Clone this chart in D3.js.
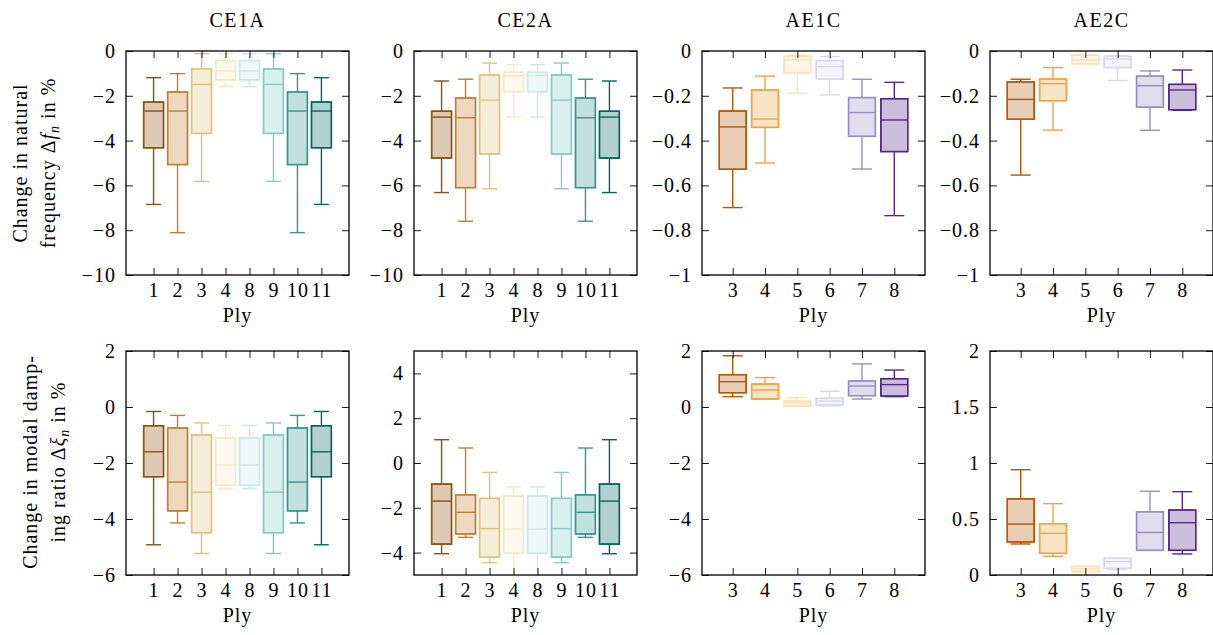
<!DOCTYPE html>
<html>
<head>
<meta charset="utf-8">
<script src="https://cdn.jsdelivr.net/npm/d3@7"></script>
<style>
  body { margin: 0; background: #fff; }
  svg, svg text { font-family: "Liberation Serif", "Times New Roman", Tinos, "DejaVu Serif", serif; }
</style>
</head>
<body>
<div id="container"></div>
<script>
// categories (plies) and colours
let ceCats = ["1", "2", "3", "4", "8", "9", "10", "11"];
let aeCats = ["3", "4", "5", "6", "7", "8"];
let ceColors = ["#8c510a", "#bf812d", "#dfc27d", "#f6e8c3", "#c7eae5", "#80cdc1", "#35978f", "#01665e"];
let aeColors = ["#b35806", "#f1a340", "#fee0b6", "#d8daeb", "#998ec3", "#542788"];

// box stats per ply: [lower whisker, q1, median, q3, upper whisker]
let ce1aFreq = [
  [-6.85, -4.32, -2.68, -2.28, -1.19],
  [-8.11, -5.07, -2.68, -1.83, -1.01],
  [-5.82, -3.68, -1.49, -0.80, -0.12],
  [-1.59, -1.29, -0.89, -0.43, -0.12],
  [-1.59, -1.29, -0.89, -0.43, -0.12],
  [-5.82, -3.68, -1.49, -0.80, -0.12],
  [-8.11, -5.07, -2.68, -1.83, -1.01],
  [-6.85, -4.32, -2.68, -2.28, -1.19]
];
let ce2aFreq = [
  [-6.32, -4.78, -2.95, -2.69, -1.34],
  [-7.60, -6.10, -2.98, -2.10, -1.26],
  [-6.15, -4.60, -2.19, -1.07, -0.54],
  [-2.95, -1.82, -1.10, -0.95, -0.61],
  [-2.95, -1.82, -1.10, -0.95, -0.61],
  [-6.15, -4.60, -2.19, -1.07, -0.54],
  [-7.60, -6.10, -2.98, -2.10, -1.26],
  [-6.32, -4.78, -2.95, -2.69, -1.34]
];
let ae1cFreq = [
  [-0.699, -0.528, -0.339, -0.268, -0.165],
  [-0.500, -0.341, -0.304, -0.174, -0.112],
  [-0.188, -0.098, -0.039, -0.024, -0.019],
  [-0.196, -0.126, -0.070, -0.043, -0.025],
  [-0.527, -0.381, -0.275, -0.208, -0.126],
  [-0.735, -0.449, -0.308, -0.213, -0.140]
];
let ae2cFreq = [
  [-0.554, -0.305, -0.216, -0.138, -0.126],
  [-0.353, -0.222, -0.146, -0.125, -0.074],
  [-0.057, -0.057, -0.040, -0.019, -0.016],
  [-0.132, -0.074, -0.036, -0.024, -0.021],
  [-0.354, -0.251, -0.155, -0.112, -0.089],
  [-0.265, -0.262, -0.174, -0.149, -0.085]
];
let ce1aDamp = [
  [-4.92, -2.49, -1.60, -0.67, -0.16],
  [-4.14, -3.71, -2.68, -0.75, -0.30],
  [-5.23, -4.49, -3.04, -1.00, -0.57],
  [-2.92, -2.80, -2.07, -1.10, -0.66],
  [-2.92, -2.80, -2.07, -1.10, -0.66],
  [-5.23, -4.49, -3.04, -1.00, -0.57],
  [-4.14, -3.71, -2.68, -0.75, -0.30],
  [-4.92, -2.49, -1.60, -0.67, -0.16]
];
let ce2aDamp = [
  [-4.05, -3.62, -1.70, -0.94, 1.04],
  [-3.32, -3.17, -2.20, -1.42, 0.67],
  [-4.45, -4.20, -2.93, -1.58, -0.42],
  [-5.30, -4.03, -2.95, -1.47, -1.07],
  [-5.30, -4.03, -2.95, -1.47, -1.07],
  [-4.45, -4.20, -2.93, -1.58, -0.42],
  [-3.32, -3.17, -2.20, -1.42, 0.67],
  [-4.05, -3.62, -1.70, -0.94, 1.04]
];
let ae1cDamp = [
  [0.37, 0.51, 0.905, 1.155, 1.83],
  [0.286, 0.286, 0.607, 0.82, 1.05],
  [0.035, 0.035, 0.14, 0.21, 0.33],
  [0.04, 0.07, 0.21, 0.31, 0.56],
  [0.286, 0.405, 0.75, 0.93, 1.54],
  [0.37, 0.39, 0.80, 1.01, 1.32]
];
let ae2cDamp = [
  [0.277, 0.295, 0.455, 0.68, 0.94],
  [0.167, 0.193, 0.372, 0.458, 0.637],
  [0.03, 0.03, 0.054, 0.077, 0.077],
  [0.05, 0.06, 0.12, 0.149, 0.149],
  [0.22, 0.22, 0.38, 0.565, 0.747],
  [0.188, 0.22, 0.467, 0.58, 0.744]
];

// y tick values
let ceFreqTicks = [0, -2, -4, -6, -8, -10];
let aeFreqTicks = [0, -0.2, -0.4, -0.6, -0.8, -1];
let ce1aDampTicks = [2, 0, -2, -4, -6];
let ce2aDampTicks = [4, 2, 0, -2, -4];
let ae1cDampTicks = [2, 0, -2, -4, -6];
let ae2cDampTicks = [0, 0.5, 1, 1.5, 2];

let titles = ["CE1A", "CE2A", "AE1C", "AE2C"];

let w = 1213;
let h = 635;
let pw = 223;
let ph = 224;
let lefts = [126, 414, 702, 990];
let tops = [51, 351];
let serif = "'Liberation Serif', 'Times New Roman', Tinos, 'DejaVu Serif', serif";

let viz = d3.select("#container")
  .append("svg")
    .attr("width", w)
    .attr("height", h)
    .attr("font-family", serif)
;

let panels = [
  {row: 0, col: 0, cats: ceCats, colors: ceColors, data: ce1aFreq, domain: [-10, 0], ticks: ceFreqTicks, pad: 1.15},
  {row: 0, col: 1, cats: ceCats, colors: ceColors, data: ce2aFreq, domain: [-10, 0], ticks: ceFreqTicks, pad: 1.15},
  {row: 0, col: 2, cats: aeCats, colors: aeColors, data: ae1cFreq, domain: [-1, 0], ticks: aeFreqTicks, pad: 0.95},
  {row: 0, col: 3, cats: aeCats, colors: aeColors, data: ae2cFreq, domain: [-1, 0], ticks: aeFreqTicks, pad: 0.95},
  {row: 1, col: 0, cats: ceCats, colors: ceColors, data: ce1aDamp, domain: [-6, 2], ticks: ce1aDampTicks, pad: 1.15},
  {row: 1, col: 1, cats: ceCats, colors: ceColors, data: ce2aDamp, domain: [-5, 5], ticks: ce2aDampTicks, pad: 1.15},
  {row: 1, col: 2, cats: aeCats, colors: aeColors, data: ae1cDamp, domain: [-6, 2], ticks: ae1cDampTicks, pad: 0.95},
  {row: 1, col: 3, cats: aeCats, colors: aeColors, data: ae2cDamp, domain: [0, 2], ticks: ae2cDampTicks, pad: 0.95}
];

let fmt = d3.format("~g");

panels.forEach(function(p, k){
  let x0 = lefts[p.col];
  let y0 = tops[p.row];
  let g = viz.append("g").attr("transform", "translate(" + x0 + "," + y0 + ")");

  let xScale = d3.scalePoint().domain(p.cats).range([0, pw]).padding(p.pad);
  let yScale = d3.scaleLinear().domain(p.domain).range([ph, 0]);
  let step = xScale.step();
  let bw = step * 0.83;
  let cw = step * 0.62;

  let clipId = "clip" + k;
  g.append("clipPath").attr("id", clipId)
    .append("rect").attr("width", pw).attr("height", ph);

  let boxes = g.append("g").attr("clip-path", "url(#" + clipId + ")")
    .selectAll(".box").data(p.data).enter()
    .append("g")
      .attr("class", "box")
      .attr("stroke", function(d, i){ return p.colors[i]; })
      .attr("stroke-width", 1.4)
      .attr("fill", "none")
  ;
  let cx = function(d, i){ return xScale(p.cats[i]); };

  // whisker stems
  boxes.append("line")
    .attr("x1", cx).attr("x2", cx)
    .attr("y1", function(d){ return yScale(d[0]); })
    .attr("y2", function(d){ return yScale(d[4]); });
  // caps
  [0, 4].forEach(function(j){
    boxes.append("line")
      .attr("x1", function(d, i){ return cx(d, i) - cw / 2; })
      .attr("x2", function(d, i){ return cx(d, i) + cw / 2; })
      .attr("y1", function(d){ return yScale(d[j]); })
      .attr("y2", function(d){ return yScale(d[j]); });
  });
  // box
  boxes.append("rect")
    .attr("x", function(d, i){ return cx(d, i) - bw / 2; })
    .attr("width", bw)
    .attr("y", function(d){ return yScale(d[3]); })
    .attr("height", function(d){ return Math.max(0.5, yScale(d[1]) - yScale(d[3])); })
    .attr("fill", "#fff");
  boxes.append("rect")
    .attr("x", function(d, i){ return cx(d, i) - bw / 2; })
    .attr("width", bw)
    .attr("y", function(d){ return yScale(d[3]); })
    .attr("height", function(d){ return Math.max(0.5, yScale(d[1]) - yScale(d[3])); })
    .attr("fill", function(d, i){ return p.colors[i]; })
    .attr("fill-opacity", 0.3);
  // median
  boxes.append("line")
    .attr("x1", function(d, i){ return cx(d, i) - bw / 2; })
    .attr("x2", function(d, i){ return cx(d, i) + bw / 2; })
    .attr("y1", function(d){ return yScale(d[2]); })
    .attr("y2", function(d){ return yScale(d[2]); });

  // axes, ticks pointing inward
  let tickLen = -7;
  g.append("g").attr("class", "ax")
    .call(d3.axisLeft(yScale).tickValues(p.ticks).tickFormat(fmt).tickSize(tickLen).tickPadding(10));
  g.append("g").attr("class", "ax")
    .attr("transform", "translate(" + pw + ",0)")
    .call(d3.axisRight(yScale).tickValues(p.ticks).tickFormat("").tickSize(tickLen));
  g.append("g").attr("class", "ax")
    .attr("transform", "translate(0," + ph + ")")
    .call(d3.axisBottom(xScale).tickSize(tickLen).tickPadding(8));
  g.append("g").attr("class", "ax")
    .call(d3.axisTop(xScale).tickFormat("").tickSize(tickLen));

  g.selectAll(".ax").attr("font-family", serif).attr("font-size", 20);
  g.selectAll(".ax .domain").remove();
  g.selectAll(".ax line").attr("stroke", "#000").attr("stroke-width", 0.9);
  g.selectAll(".ax text").attr("fill", "#000").attr("letter-spacing", 1);

  g.append("rect")
    .attr("width", pw).attr("height", ph)
    .attr("fill", "none").attr("stroke", "#000").attr("stroke-width", 1.3);

  g.append("text")
    .attr("x", pw / 2).attr("y", ph + 47)
    .attr("text-anchor", "middle").attr("font-size", 20).attr("letter-spacing", 1)
    .text("Ply");

  if (p.row == 0) {
    g.append("text")
      .attr("x", pw / 2).attr("y", -24)
      .attr("text-anchor", "middle").attr("font-size", 20).attr("letter-spacing", 1.5)
      .text(titles[p.col]);
  }
});

// y labels (two lines, rotated)
function yLabel(cy, bx1, bx2, line1, pre, sym){
  viz.append("text")
    .attr("transform", "translate(" + bx1 + "," + cy + ") rotate(-90)")
    .attr("text-anchor", "middle").attr("font-size", 20).attr("letter-spacing", 1)
    .text(line1);
  let t2 = viz.append("text")
    .attr("transform", "translate(" + bx2 + "," + cy + ") rotate(-90)")
    .attr("text-anchor", "middle").attr("font-size", 20).attr("letter-spacing", 1);
  t2.append("tspan").text(pre + "Δ");
  t2.append("tspan").attr("font-style", "italic").text(sym);
  t2.append("tspan").attr("font-style", "italic").attr("font-size", 14).attr("dy", 4).text("n");
  t2.append("tspan").attr("dy", -4).text(" in %");
}
yLabel(163, 27, 55, "Change in natural", "frequency ", "f");
yLabel(462, 37, 65, "Change in modal damp-", "ing ratio ", "ξ");
</script>
</body>
</html>
